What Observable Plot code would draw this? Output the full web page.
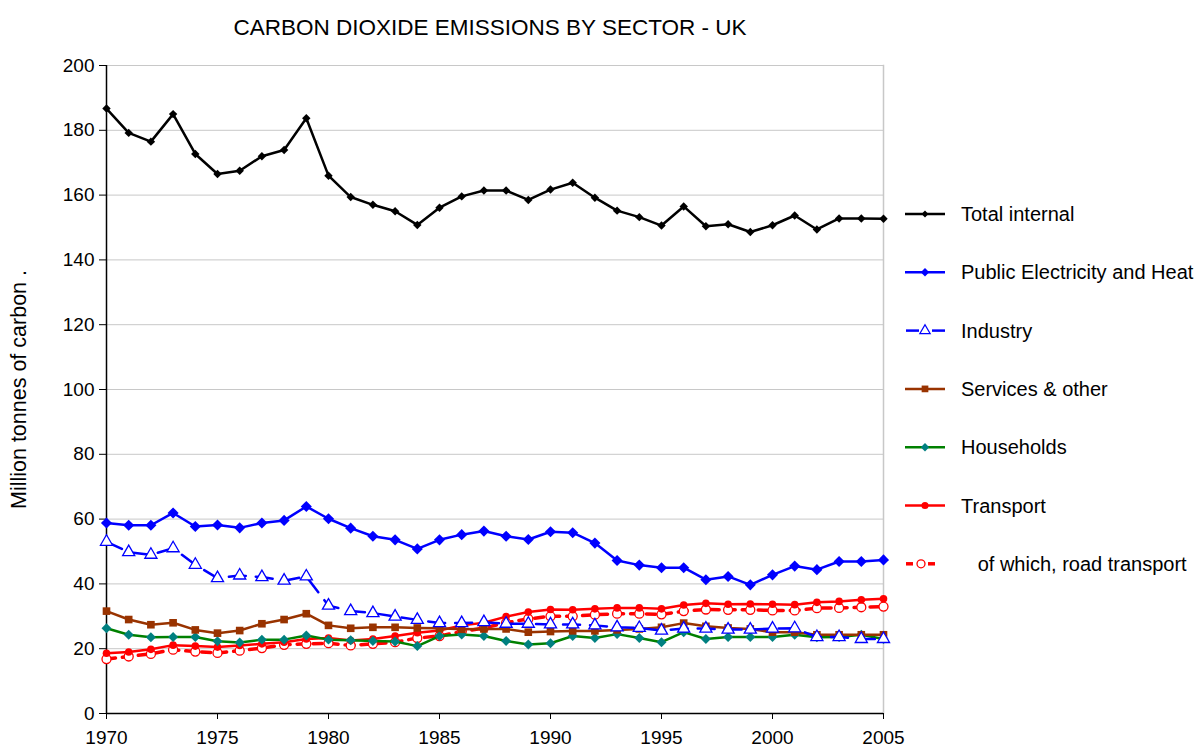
<!DOCTYPE html>
<html>
<head>
<meta charset="utf-8">
<script src="https://cdn.jsdelivr.net/npm/d3@7"></script>
<script src="https://cdn.jsdelivr.net/npm/@observablehq/plot@0.6"></script>
<style>
  html, body { margin: 0; padding: 0; background: #fff; }
  #wrap { position: relative; width: 1197px; height: 749px; font-family: "Liberation Sans", Arial, sans-serif; overflow: hidden; }
  #title { position: absolute; left: 0; width: 980px; top: 15px; text-align: center; font-size: 22.5px; color: #000; line-height: 1.15; }
  #legend { position: absolute; left: 0; top: 0; }
</style>
</head>
<body>
<div id="wrap">
  <div id="chart"></div>
  <div id="title">CARBON DIOXIDE EMISSIONS BY SECTOR - UK</div>
  <svg id="legend" width="1197" height="749"></svg>
</div>
<script>
const years = d3.range(1970, 2006);

const totalInternal = [186.7,179.2,176.5,185.0,172.7,166.5,167.5,172.0,173.9,183.7,166.0,159.4,157.0,155.0,150.8,156.1,159.6,161.4,161.4,158.5,161.7,163.8,159.2,155.2,153.2,150.6,156.5,150.4,151.0,148.6,150.7,153.7,149.4,152.8,152.8,152.7];
const publicElectricity = [58.8,58.1,58.1,61.9,57.7,58.2,57.3,58.8,59.6,63.9,60.1,57.2,54.7,53.6,50.8,53.6,55.2,56.3,54.7,53.7,56.1,55.8,52.6,47.2,45.8,45.0,45.0,41.3,42.3,39.7,42.8,45.5,44.4,46.9,46.9,47.4];
const industry = [53.0,49.8,49.0,51.0,45.9,41.8,42.6,42.1,41.0,42.3,33.3,31.6,31.0,29.9,28.9,27.9,27.9,28.2,27.7,27.7,27.5,27.5,27.2,26.6,26.4,25.6,26.2,26.2,25.9,25.9,26.2,26.3,23.6,23.6,23.0,23.0];
const services = [31.6,29.0,27.4,28.0,25.8,24.8,25.6,27.7,29.0,30.8,27.2,26.3,26.6,26.6,26.4,26.3,26.0,26.1,26.1,25.1,25.3,25.5,25.5,25.8,26.1,26.6,27.9,26.9,26.4,26.1,25.1,25.1,24.3,24.3,24.3,24.3];
const households = [26.3,24.3,23.5,23.6,23.6,22.3,21.9,22.8,22.8,24.1,22.8,22.6,22.4,22.2,20.8,23.9,24.4,23.9,22.4,21.3,21.7,23.9,23.3,24.5,23.3,22.0,25.1,23.0,23.6,23.6,23.6,24.3,23.5,23.6,24.3,23.0];
const transport = [18.6,19.0,19.8,21.1,20.8,20.5,21.0,21.5,22.0,23.0,23.3,22.5,23.0,23.9,24.9,25.6,27.2,28.0,29.9,31.3,32.1,32.0,32.3,32.6,32.6,32.3,33.5,34.0,33.7,33.8,33.7,33.6,34.3,34.6,35.1,35.4];
const roadTransport = [16.8,17.6,18.4,19.7,19.1,18.7,19.4,20.2,21.2,21.5,21.7,21.0,21.5,22.0,23.3,23.9,25.3,26.4,28.0,29.2,30.0,30.0,30.5,30.8,30.8,30.6,31.6,32.1,32.0,32.0,31.8,31.8,32.5,32.6,32.8,33.0];

const yTicks = [0,20,40,60,80,100,120,140,160,180,200];
const xTicks = [1970,1975,1980,1985,1990,1995,2000,2005];

const seriesNames = ["Total internal","Public Electricity and Heat","Industry","Services & other","Households","Transport","   of which, road transport"];

const rows = (vals) => years.map((year, i) => ({year, value: vals[i]}));

const BLUE = "#0000ff", BROWN = "#993300", GREEN = "#008000", TEAL = "#008080", RED = "#ff0000";

const chart = Plot.plot({
  width: 1197,
  height: 749,
  marginLeft: 106,
  marginRight: 314,
  marginTop: 65,
  marginBottom: 36,
  style: {fontFamily: "'Liberation Sans', Arial, sans-serif", fontSize: "19px", color: "#000", background: "#fff", overflow: "visible"},
  x: {domain: [1970, 2005]},
  y: {domain: [0, 200]},
  marks: [
    Plot.ruleY(yTicks.filter(d => d > 0), {stroke: "#c8c8c8", strokeWidth: 1}),
    Plot.frame({anchor: "right", stroke: "#c8c8c8", strokeWidth: 1.5}),
    Plot.axisY({ticks: yTicks, tickSize: 7, tickPadding: 5, label: null, fontSize: 19, tickFormat: d => d}),
    Plot.axisY({ticks: [], tickSize: 0, label: "Million tonnes of carbon .", labelAnchor: "center", labelArrow: "none", labelOffset: 96, fontSize: 21.5}),
    Plot.axisX({ticks: xTicks, tickSize: 6, tickPadding: 11, label: null, fontSize: 19, tickFormat: d => String(d)}),
    Plot.ruleX([1970], {stroke: "#000", strokeWidth: 1.5}),
    Plot.ruleY([0], {stroke: "#000", strokeWidth: 1.5}),

    // Road transport
    Plot.line(rows(roadTransport), {x: "year", y: "value", stroke: RED, strokeWidth: 3.5, strokeDasharray: "9,7"}),
    Plot.dot(rows(roadTransport), {x: "year", y: "value", symbol: "circle", r: 4.5, fill: "#fff", stroke: RED, strokeWidth: 1.3}),
    // Transport
    Plot.line(rows(transport), {x: "year", y: "value", stroke: RED, strokeWidth: 2.5}),
    Plot.dot(rows(transport), {x: "year", y: "value", symbol: "circle", r: 3.8, fill: RED, stroke: "none"}),
    // Households
    Plot.line(rows(households), {x: "year", y: "value", stroke: GREEN, strokeWidth: 2.5}),
    Plot.dot(rows(households), {x: "year", y: "value", symbol: "diamond2", r: 4.5, fill: TEAL, stroke: "none"}),
    // Services
    Plot.line(rows(services), {x: "year", y: "value", stroke: BROWN, strokeWidth: 2.5}),
    Plot.dot(rows(services), {x: "year", y: "value", symbol: "square", r: 4.3, fill: BROWN, stroke: "none"}),
    // Industry
    Plot.line(rows(industry), {x: "year", y: "value", stroke: BLUE, strokeWidth: 2.5, strokeDasharray: "17,10"}),
    Plot.dot(rows(industry), {x: "year", y: "value", symbol: "triangle", r: 4.5, fill: "#fff", stroke: BLUE, strokeWidth: 1.3}),
    // Public electricity
    Plot.line(rows(publicElectricity), {x: "year", y: "value", stroke: BLUE, strokeWidth: 2.5}),
    Plot.dot(rows(publicElectricity), {x: "year", y: "value", symbol: "diamond2", r: 5, fill: BLUE, stroke: "none"}),
    // Total
    Plot.line(rows(totalInternal), {x: "year", y: "value", stroke: "#000", strokeWidth: 2.5}),
    Plot.dot(rows(totalInternal), {x: "year", y: "value", symbol: "diamond2", r: 3.8, fill: "#000", stroke: "none"})
  ]
});
document.getElementById("chart").appendChild(chart);

// Legend
const legendStyles = [
  {stroke: "#000", dash: null, sym: d3.symbolDiamond2, size: 30, fill: "#000", mstroke: "none"},
  {stroke: BLUE, dash: null, sym: d3.symbolDiamond2, size: 45, fill: BLUE, mstroke: "none"},
  {stroke: BLUE, dash: "dashInd", sym: d3.symbolTriangle, size: 45, fill: "#fff", mstroke: BLUE},
  {stroke: BROWN, dash: null, sym: d3.symbolSquare, size: 45, fill: BROWN, mstroke: "none"},
  {stroke: GREEN, dash: null, sym: d3.symbolDiamond2, size: 45, fill: TEAL, mstroke: "none"},
  {stroke: RED, dash: null, sym: d3.symbolCircle, size: 40, fill: RED, mstroke: "none"},
  {stroke: RED, dash: "dashRoad", sym: d3.symbolCircle, size: 50, fill: "#fff", mstroke: RED}
];
const lg = d3.select("#legend");
const x0 = 905, cx = 925, tx = 961, y0 = 214, dy = 58.3;
seriesNames.forEach((name, i) => {
  const s = legendStyles[i];
  const y = y0 + i * dy;
  const g = lg.append("g");
  if (s.dash === "dashInd") {
    g.append("line").attr("x1", x0 + 1).attr("x2", x0 + 14).attr("y1", y).attr("y2", y).attr("stroke", s.stroke).attr("stroke-width", 2.5);
    g.append("line").attr("x1", x0 + 27).attr("x2", x0 + 40).attr("y1", y).attr("y2", y).attr("stroke", s.stroke).attr("stroke-width", 2.5);
  } else if (s.dash === "dashRoad") {
    g.append("line").attr("x1", x0 + 1).attr("x2", x0 + 8).attr("y1", y).attr("y2", y).attr("stroke", s.stroke).attr("stroke-width", 3.5);
    g.append("line").attr("x1", x0 + 23).attr("x2", x0 + 30).attr("y1", y).attr("y2", y).attr("stroke", s.stroke).attr("stroke-width", 3.5);
  } else {
    g.append("line").attr("x1", x0).attr("x2", x0 + 40).attr("y1", y).attr("y2", y).attr("stroke", s.stroke).attr("stroke-width", 2.5);
  }
  const mx = s.dash === "dashRoad" ? x0 + 16 : cx;
  g.append("path").attr("d", d3.symbol(s.sym, s.size)()).attr("transform", `translate(${mx},${y})`)
    .attr("fill", s.fill).attr("stroke", s.mstroke).attr("stroke-width", 1.3);
  g.append("text").attr("x", tx).attr("y", y).attr("dy", "0.35em")
    .attr("font-family", "'Liberation Sans', Arial, sans-serif").attr("font-size", 20)
    .style("white-space", "pre")
    .text(name);
});
</script>
</body>
</html>
